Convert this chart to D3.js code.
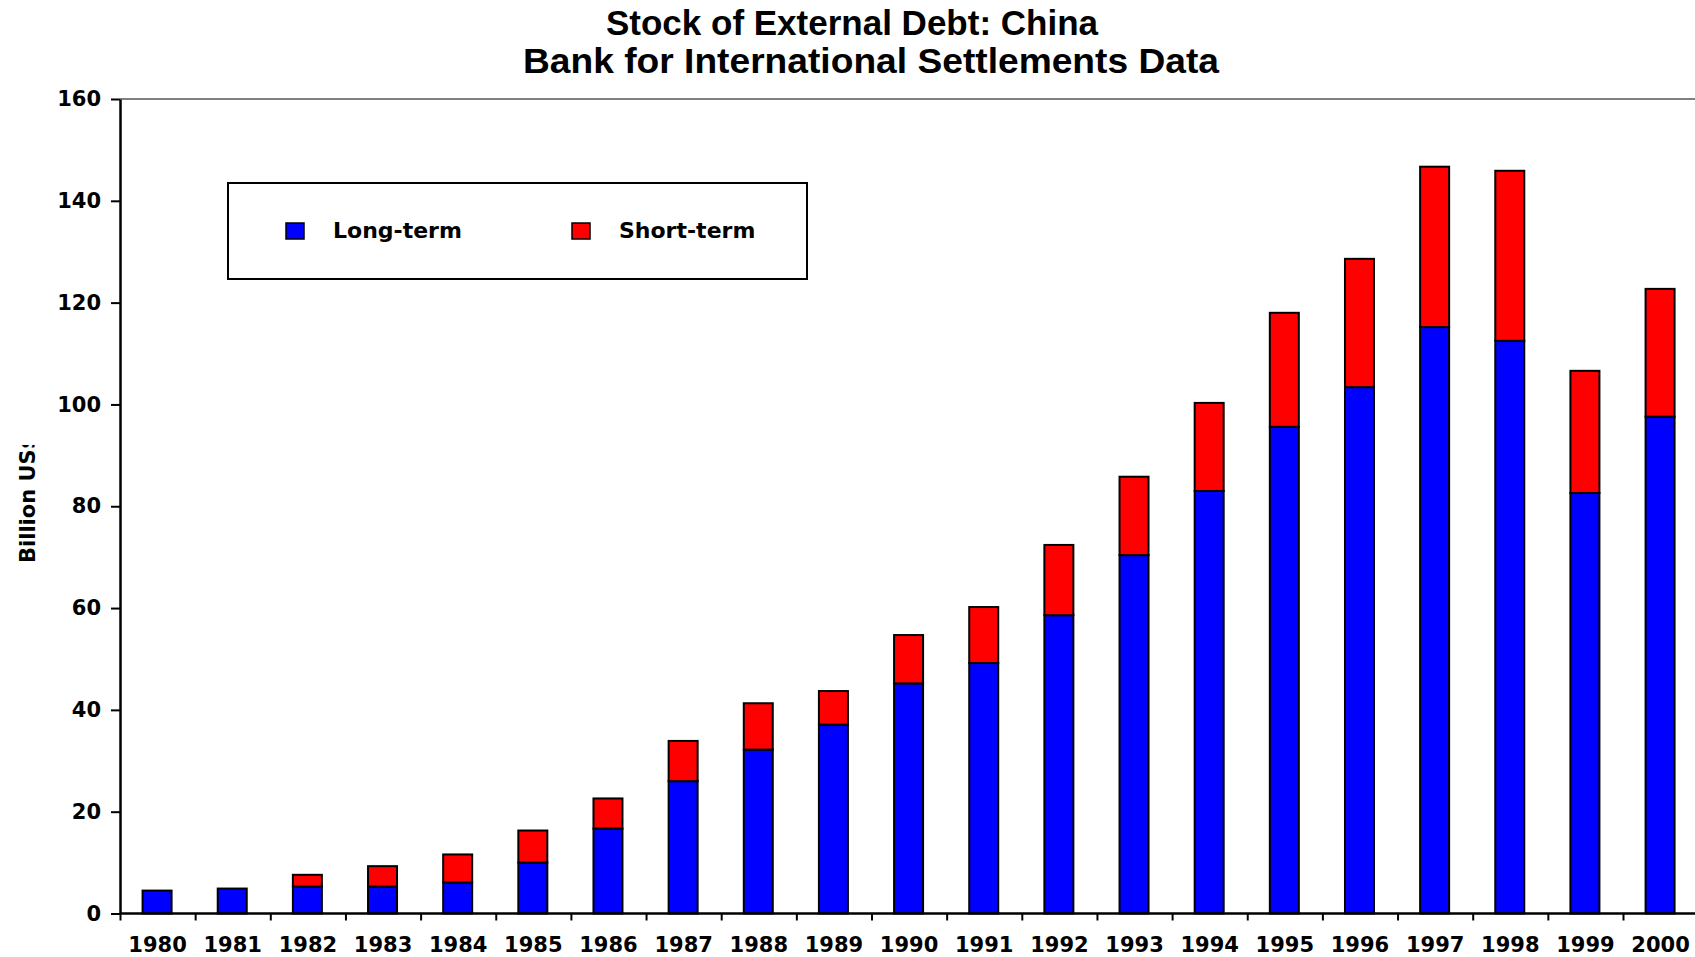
<!DOCTYPE html>
<html>
<head>
<meta charset="utf-8">
<script src="https://cdn.jsdelivr.net/npm/d3@7"></script>
<style>
  body { margin: 0; background: #fff; }
  svg { display: block; }
</style>
</head>
<body>
<svg id="chart" width="1695" height="957"></svg>
<script>
// Data (billion US$)
var years = d3.range(1980, 2001).map(String);
var longTerm  = [4.5, 4.9, 5.3, 5.3, 6.1, 10.0, 16.7, 26.0, 32.2, 37.1, 45.2, 49.2, 58.6, 70.4, 83.0, 95.6, 103.4, 115.2, 112.5, 82.6, 97.6];
var shortTerm = [0, 0, 2.3, 4.0, 5.5, 6.3, 5.9, 7.9, 9.1, 6.6, 9.5, 11.0, 13.8, 15.4, 17.3, 22.4, 25.2, 31.5, 33.4, 24.0, 25.1];
var yTicks = [0, 20, 40, 60, 80, 100, 120, 140, 160];
var seriesNames = ["Long-term", "Short-term"];
var seriesColors = ["#0000ff", "#ff0000"];

var svg = d3.select("#chart");
var boldFont = "DejaVu Sans, Verdana, sans-serif";

// plot area (runs a bit past the right edge, as in the original)
var plotLeft = 120, plotTop = 99, plotBottom = 913.5;
var step = 75.15;
var plotRight = plotLeft + step * years.length;

var x = d3.scaleBand().domain(years).range([plotLeft, plotRight]).padding(0);
var xEdge = d3.scaleLinear().domain([0, years.length]).range([plotLeft, plotRight]);
var y = d3.scaleLinear().domain([0, 160]).range([plotBottom, plotTop]);

// Titles
svg.append("text")
  .attr("x", 852).attr("y", 35)
  .attr("text-anchor", "middle")
  .style("font-family", "Liberation Sans, Arial, sans-serif")
  .style("font-weight", "bold")
  .style("font-size", "35px")
  .text("Stock of External Debt: China");

svg.append("text")
  .attr("x", 871).attr("y", 73)
  .attr("text-anchor", "middle")
  .attr("textLength", 696)
  .attr("lengthAdjust", "spacingAndGlyphs")
  .style("font-family", "Liberation Sans, Arial, sans-serif")
  .style("font-weight", "bold")
  .style("font-size", "35px")
  .text("Bank for International Settlements Data");

// top frame line
svg.append("line")
  .attr("x1", plotLeft).attr("x2", 1695)
  .attr("y1", plotTop).attr("y2", plotTop)
  .attr("stroke", "#808080").attr("stroke-width", 2);

// stacked bars
var stackData = years.map(function(yr, i) {
  return { year: yr, "Long-term": longTerm[i], "Short-term": shortTerm[i] };
});
var stacked = d3.stack().keys(seriesNames)(stackData);

var barW = 29;
svg.append("g")
  .selectAll("g")
  .data(stacked)
  .enter()
  .append("g")
  .attr("fill", function(d, i) { return seriesColors[i]; })
  .selectAll("rect")
  .data(function(d) { return d.filter(function(p) { return p[1] - p[0] > 0; }); })
  .enter()
  .append("rect")
  .attr("x", function(d) { return x(d.data.year) + x.bandwidth() / 2 - barW / 2 - 0.5; })
  .attr("y", function(d) { return y(d[1]); })
  .attr("width", barW)
  .attr("height", function(d) { return y(d[0]) - y(d[1]); })
  .attr("stroke", "#000")
  .attr("stroke-width", 2);

// Y axis
var yAxis = svg.append("g")
  .attr("transform", `translate(${plotLeft},0)`)
  .call(d3.axisLeft(y).tickValues(yTicks).tickSize(9).tickSizeOuter(0).tickPadding(10));
yAxis.select(".domain").attr("stroke", "#000").attr("stroke-width", 2.5);
yAxis.selectAll(".tick line").attr("stroke", "#000").attr("stroke-width", 2);
yAxis.selectAll(".tick text")
  .style("font-family", boldFont)
  .style("font-weight", "bold")
  .style("font-size", "21px")
  .attr("fill", "#000");

// X axis: ticks on category edges, labels at centres
var xTickAxis = svg.append("g")
  .attr("transform", `translate(0,${plotBottom})`)
  .call(d3.axisBottom(xEdge).tickValues(d3.range(years.length + 1)).tickFormat("").tickSize(7).tickSizeOuter(0));
xTickAxis.select(".domain").remove();
xTickAxis.selectAll(".tick line").attr("stroke", "#000").attr("stroke-width", 2);

svg.append("line")
  .attr("x1", plotLeft).attr("x2", 1695)
  .attr("y1", plotBottom).attr("y2", plotBottom)
  .attr("stroke", "#000").attr("stroke-width", 2.5);

var xLabelAxis = svg.append("g")
  .attr("transform", `translate(0,${plotBottom})`)
  .call(d3.axisBottom(x).tickSize(0).tickPadding(24));
xLabelAxis.select(".domain").remove();
xLabelAxis.selectAll(".tick text")
  .style("font-family", boldFont)
  .style("font-weight", "bold")
  .style("font-size", "21px")
  .attr("fill", "#000");

// Y axis title (clipped at the top like the original)
svg.append("clipPath").attr("id", "ylabClip")
  .append("rect").attr("x", 0).attr("y", 445).attr("width", 60).attr("height", 200);
svg.append("g")
  .attr("clip-path", "url(#ylabClip)")
  .append("text")
  .attr("transform", "translate(35,563) rotate(-90)")
  .attr("text-anchor", "start")
  .style("font-family", boldFont)
  .style("font-weight", "bold")
  .style("font-size", "21px")
  .text("Billion US$");

// Legend
var legend = svg.append("g");
legend.append("rect")
  .attr("x", 228).attr("y", 183)
  .attr("width", 579).attr("height", 96)
  .attr("fill", "#fff").attr("stroke", "#000").attr("stroke-width", 2);

var legendX = [286, 572];
seriesNames.forEach(function(name, i) {
  legend.append("rect")
    .attr("x", legendX[i]).attr("y", 223)
    .attr("width", 18).attr("height", 16)
    .attr("fill", seriesColors[i])
    .attr("stroke", "#000").attr("stroke-width", 1.5);
  legend.append("text")
    .attr("x", legendX[i] + 47).attr("y", 238)
    .style("font-family", boldFont)
    .style("font-weight", "bold")
    .style("font-size", "22px")
    .text(name);
});
</script>
</body>
</html>
